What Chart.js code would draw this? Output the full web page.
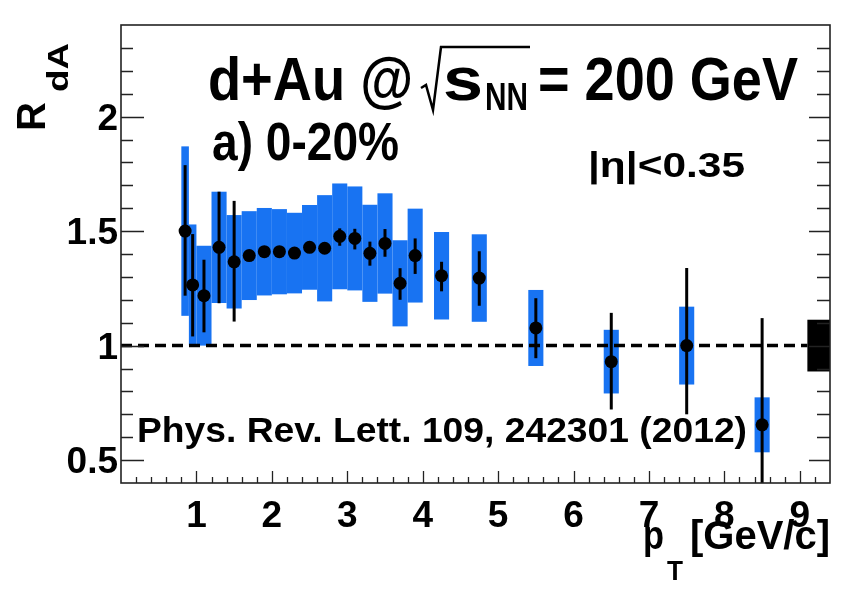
<!DOCTYPE html>
<html>
<head>
<meta charset="utf-8">
<script src="https://cdn.jsdelivr.net/npm/chart.js@4.4.1/dist/chart.umd.min.js"></script>
<style>
  html, body { margin: 0; background: #fff; }
  #wrap { width: 844px; height: 592px; }
</style>
</head>
<body>
<div id="wrap"><canvas id="chart" width="844" height="592"></canvas></div>
<script>
// Heavy-flavour electron R_dA, d+Au 0-20%
const ptValues   = [0.85, 0.95, 1.1, 1.3, 1.5, 1.7, 1.9, 2.1, 2.3, 2.5, 2.7, 2.9, 3.1, 3.3, 3.5, 3.7, 3.9, 4.25, 4.75, 5.5, 6.5, 7.5, 8.5];
const rdaValues  = [1.50, 1.265, 1.218, 1.429, 1.366, 1.393, 1.41, 1.41, 1.404, 1.429, 1.425, 1.477, 1.468, 1.403, 1.446, 1.272, 1.393, 1.305, 1.295, 1.077, 0.930, 1.0, 0.654];
const statUp     = [0.288, 0.222, 0.157, 0.243, 0.266, 0.02, 0.02, 0.02, 0.02, 0.02, 0.02, 0.035, 0.042, 0.051, 0.063, 0.066, 0.075, 0.061, 0.117, 0.13, 0.213, 0.339, 0.466];
const statDown   = [0.282, 0.225, 0.160, 0.244, 0.261, 0.02, 0.02, 0.02, 0.02, 0.02, 0.02, 0.041, 0.048, 0.054, 0.058, 0.072, 0.080, 0.068, 0.121, 0.132, 0.209, 0.30, 0.466];
const sysErr     = [0.37, 0.264, 0.218, 0.243, 0.204, 0.194, 0.191, 0.186, 0.176, 0.185, 0.232, 0.231, 0.227, 0.212, 0.219, 0.188, 0.205, 0.191, 0.191, 0.166, 0.139, 0.17, 0.12];
const sysHalfW   = [0.05, 0.05, 0.1, 0.1, 0.1, 0.1, 0.1, 0.1, 0.1, 0.1, 0.1, 0.1, 0.1, 0.1, 0.1, 0.1, 0.1, 0.1, 0.1, 0.1, 0.1, 0.1, 0.1];
const normUnc    = 0.113;
const normRange  = [9.1, 9.4];
const xTickValues = [1, 2, 3, 4, 5, 6, 7, 8, 9];
const yTickValues = [0.5, 1, 1.5, 2];

const BLUE = '#1873f2';
const FONT = '"Liberation Sans", Arial, Helvetica, sans-serif';

function drawText(ctx, str, x, y, size, width) {
  ctx.save();
  ctx.font = `bold ${size}px ${FONT}`;
  const sx = width ? width / ctx.measureText(str).width : 1;
  ctx.translate(x, y);
  ctx.scale(sx, 1);
  ctx.textAlign = 'left';
  ctx.textBaseline = 'alphabetic';
  ctx.fillStyle = '#000';
  ctx.fillText(str, 0, 0);
  ctx.restore();
}

const rootStyle = {
  id: 'rootStyle',
  beforeDatasetsDraw(chart) {
    const { ctx, chartArea: a, scales: { x, y } } = chart;
    ctx.save();
    ctx.beginPath();
    ctx.rect(a.left, a.top, a.right - a.left, a.bottom - a.top);
    ctx.clip();

    // systematic boxes
    ctx.fillStyle = BLUE;
    ptValues.forEach((pt, i) => {
      const x0 = x.getPixelForValue(pt - sysHalfW[i]);
      const x1 = x.getPixelForValue(pt + sysHalfW[i]);
      const y0 = y.getPixelForValue(rdaValues[i] + sysErr[i]);
      const y1 = y.getPixelForValue(rdaValues[i] - sysErr[i]);
      ctx.fillRect(x0, y0, x1 - x0, y1 - y0);
    });

    // unity line
    ctx.strokeStyle = '#000';
    ctx.lineWidth = 3.5;
    ctx.setLineDash([11, 6]);
    ctx.beginPath();
    ctx.moveTo(x.getPixelForValue(0), y.getPixelForValue(1));
    ctx.lineTo(x.getPixelForValue(normRange[0]), y.getPixelForValue(1));
    ctx.stroke();
    ctx.setLineDash([]);

    // global normalisation uncertainty
    ctx.fillStyle = '#000';
    const nx0 = x.getPixelForValue(normRange[0]);
    const nx1 = x.getPixelForValue(normRange[1]);
    const ny0 = y.getPixelForValue(1 + normUnc);
    const ny1 = y.getPixelForValue(1 - normUnc);
    ctx.fillRect(nx0, ny0, nx1 - nx0, ny1 - ny0);

    // statistical error bars
    ctx.lineWidth = 3;
    ptValues.forEach((pt, i) => {
      const px = x.getPixelForValue(pt);
      ctx.beginPath();
      ctx.moveTo(px, y.getPixelForValue(rdaValues[i] + statUp[i]));
      ctx.lineTo(px, y.getPixelForValue(rdaValues[i] - statDown[i]));
      ctx.stroke();
    });
    ctx.restore();
  },
  afterDatasetsDraw(chart) {
    const { ctx, chartArea: a, scales: { x, y } } = chart;
    ctx.save();

    // frame
    ctx.strokeStyle = '#222';
    ctx.lineWidth = 1.6;
    ctx.strokeRect(a.left, a.top, a.right - a.left, a.bottom - a.top);

    // y ticks, both sides
    ctx.lineWidth = 1.3;
    ctx.beginPath();
    for (let k = 5; k < 24; k++) {
      const v = k / 10;
      const py = Math.round(y.getPixelForValue(v)) + 0.5;
      const major = k % 5 === 0;
      ctx.moveTo(a.left, py); ctx.lineTo(a.left + (major ? 23 : 12), py);
      ctx.moveTo(a.right, py); ctx.lineTo(a.right - (major ? 21 : 13), py);
    }
    // x ticks
    for (let k = 1; k < 47; k++) {
      const v = k / 5;
      const px = Math.round(x.getPixelForValue(v)) + 0.5;
      const major = k % 5 === 0;
      ctx.moveTo(px, a.bottom); ctx.lineTo(px, a.bottom - (major ? 12 : 6));
    }
    ctx.stroke();

    // tick labels
    ctx.fillStyle = '#000';
    ctx.font = `bold 37px ${FONT}`;
    ctx.textAlign = 'right';
    ctx.textBaseline = 'alphabetic';
    yTickValues.forEach(v => ctx.fillText(String(v), a.left - 3, y.getPixelForValue(v) + 13));
    ctx.textAlign = 'center';
    xTickValues.forEach(v => ctx.fillText(String(v), x.getPixelForValue(v), a.bottom + 44));

    // axis titles
    ctx.save();
    ctx.translate(45, 131);
    ctx.rotate(-Math.PI / 2);
    drawText(ctx, 'R', 0, 0, 40);
    ctx.restore();
    ctx.save();
    ctx.translate(68, 92);
    ctx.rotate(-Math.PI / 2);
    drawText(ctx, 'dA', 0, 0, 29, 49);
    ctx.restore();

    drawText(ctx, 'p', 643, 549, 40, 21);
    drawText(ctx, 'T', 667, 580, 28, 16);
    drawText(ctx, '[GeV/c]', 690, 549, 41, 140);

    // labels
    drawText(ctx, 'd+Au @', 208, 100, 62, 205);
    ctx.strokeStyle = '#000';
    ctx.lineWidth = 2.5;
    ctx.beginPath();
    ctx.moveTo(421, 88);
    ctx.lineTo(426, 85);
    ctx.lineTo(433, 110);
    ctx.lineTo(441, 47);
    ctx.lineTo(530, 47);
    ctx.stroke();
    drawText(ctx, 's', 443, 100, 62, 40);
    drawText(ctx, 'NN', 485, 110, 38, 43);
    drawText(ctx, '= 200 GeV', 538, 100, 62, 260);
    drawText(ctx, 'a) 0-20%', 212, 160, 54, 187);
    drawText(ctx, '|\u03b7|<0.35', 588, 177, 35, 157);
    drawText(ctx, 'Phys. Rev. Lett. 109, 242301 (2012)', 137, 442, 35, 610);

    ctx.restore();
  }
};

new Chart(document.getElementById('chart'), {
  type: 'scatter',
  data: {
    datasets: [{
      data: ptValues.map((pt, i) => ({ x: pt, y: rdaValues[i] })),
      pointRadius: 6.5,
      pointBackgroundColor: '#000',
      pointBorderWidth: 0,
      showLine: false
    }]
  },
  options: {
    responsive: false,
    animation: false,
    devicePixelRatio: 1,
    layout: { padding: { left: 121, right: 14, top: 25, bottom: 109 } },
    plugins: { legend: { display: false }, tooltip: { enabled: false } },
    scales: {
      x: { type: 'linear', min: 0, max: 9.4, display: false },
      y: { type: 'linear', min: 0.4, max: 2.4, display: false }
    }
  },
  plugins: [rootStyle]
});
</script>
</body>
</html>
